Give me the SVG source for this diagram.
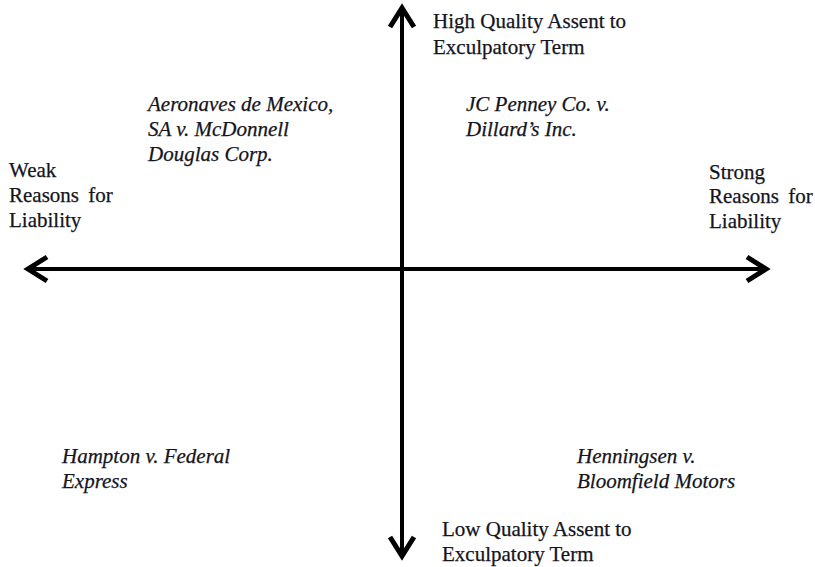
<svg xmlns="http://www.w3.org/2000/svg" width="815" height="567" viewBox="0 0 815 567">
<style>
.t{font-family:"Liberation Serif","Times New Roman",serif;font-size:21px;fill:#141420;stroke:#141420;stroke-width:0.25}
.i{font-style:italic}
.ax{stroke:#000;stroke-width:4;fill:none}
.hd{stroke:#000;stroke-width:5;fill:none;stroke-linejoin:miter;stroke-linecap:butt}
</style>
<rect width="815" height="567" fill="#fff"/>
<g id="connectors">
<line class="ax" x1="28" y1="269" x2="766" y2="269"/>
<line class="ax" x1="402" y1="8" x2="402" y2="556"/>
<path class="hd" d="M47,257 L28,269 L47,281"/>
<path class="hd" d="M747,257 L766,269 L747,281"/>
<path class="hd" d="M390,27 L402,8 L414,27"/>
<path class="hd" d="M390,537 L402,556 L414,537"/>
</g>
<g id="top-label"><text class="t" x="433" y="28">High Quality Assent to</text><text class="t" x="433" y="54">Exculpatory Term</text></g>
<g id="bottom-label"><text class="t" x="442" y="536">Low Quality Assent to</text><text class="t" x="442" y="561">Exculpatory Term</text></g>
<g id="left-label"><text class="t" x="9" y="177">Weak</text><text class="t" x="9" y="202" word-spacing="4">Reasons for</text><text class="t" x="9" y="227">Liability</text></g>
<g id="right-label"><text class="t" x="709" y="179">Strong</text><text class="t" x="709" y="203" word-spacing="4">Reasons for</text><text class="t" x="709" y="228">Liability</text></g>
<g id="aeronaves"><text class="t i" x="148" y="111">Aeronaves de Mexico,</text><text class="t i" x="148" y="136">SA v. McDonnell</text><text class="t i" x="148" y="161">Douglas Corp.</text></g>
<g id="jcpenney"><text class="t i" x="466" y="111">JC Penney Co. v.</text><text class="t i" x="466" y="136">Dillard’s Inc.</text></g>
<g id="hampton"><text class="t i" x="62" y="463">Hampton v. Federal</text><text class="t i" x="62" y="488">Express</text></g>
<g id="henningsen"><text class="t i" x="577" y="463">Henningsen v.</text><text class="t i" x="577" y="488">Bloomfield Motors</text></g>
</svg>
